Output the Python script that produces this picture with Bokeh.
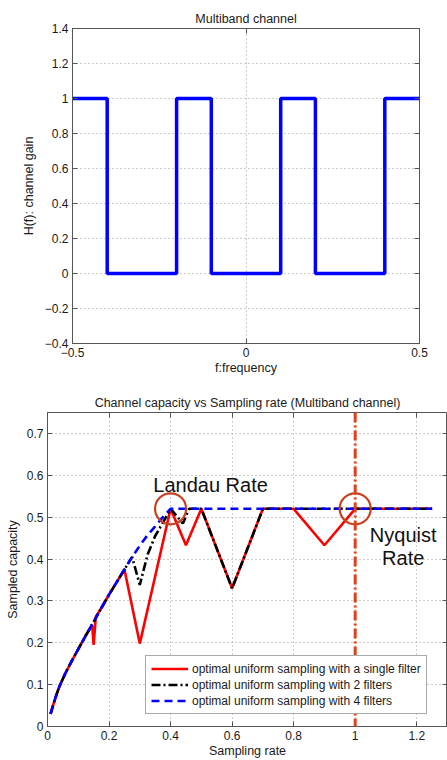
from bokeh.plotting import figure
from bokeh.models import (FixedTicker, CustomJSTickFormatter, LinearAxis, Legend,
                          LegendItem, Range1d, Span)
from bokeh.core.properties import value
from bokeh.embed import file_html
from bokeh.resources import INLINE

FONT = "Liberation Sans"

# ---------------- Top chart data: multiband channel ----------------
band_edges = [-0.5, -0.4, -0.2, -0.1, 0.1, 0.2, 0.4, 0.5]
band_gain = [1, 0, 1, 0, 1, 0, 1, 1]
top_xticks = [-0.5, 0, 0.5]
top_yticks = [-0.4, -0.2, 0, 0.2, 0.4, 0.6, 0.8, 1.0, 1.2, 1.4]

# ---------------- Bottom chart data: capacity vs sampling rate ----------------
rate_single = [0.01, 0.02, 0.03, 0.04, 0.06, 0.08, 0.1, 0.125, 0.145, 0.15, 0.157,
               0.175, 0.2, 0.225, 0.25, 0.3, 0.4, 0.45, 0.5, 0.6, 0.7, 0.8, 0.9,
               1.0, 1.25]
cap_single = [0.030, 0.055, 0.078, 0.098, 0.130, 0.158, 0.185, 0.218, 0.243, 0.195,
              0.262, 0.283, 0.315, 0.345, 0.375, 0.198, 0.520, 0.433, 0.520, 0.330,
              0.520, 0.520, 0.433, 0.520, 0.520]

rate_two = [0.01, 0.02, 0.03, 0.04, 0.06, 0.08, 0.1, 0.125, 0.15, 0.175, 0.2, 0.225,
            0.25, 0.275, 0.3, 0.325, 0.35, 0.375, 0.4, 0.44, 0.46, 0.5, 0.6, 0.7,
            1.25]
cap_two = [0.030, 0.055, 0.078, 0.098, 0.130, 0.158, 0.185, 0.218, 0.250, 0.283,
           0.315, 0.345, 0.375, 0.405, 0.338, 0.410, 0.455, 0.487, 0.520, 0.485,
           0.520, 0.520, 0.330, 0.520, 0.520]

rate_four = [0.01, 0.02, 0.03, 0.04, 0.06, 0.08, 0.1, 0.125, 0.15, 0.175, 0.2, 0.225,
             0.25, 0.275, 0.3, 0.325, 0.35, 0.375, 0.4, 1.25]
cap_four = [0.030, 0.055, 0.078, 0.098, 0.130, 0.158, 0.185, 0.218, 0.250, 0.283,
            0.315, 0.345, 0.375, 0.405, 0.432, 0.457, 0.478, 0.500, 0.520, 0.520]

bot_xticks = [0, 0.2, 0.4, 0.6, 0.8, 1.0, 1.2]
bot_yticks = [0, 0.1, 0.2, 0.3, 0.4, 0.5, 0.6, 0.7]

nyquist_rate = 1.0
marked_rate = [0.4, 1.0]
marked_cap = [0.52, 0.52]

annot_x = [0.53, 1.156, 1.156]
annot_y = [0.576, 0.457, 0.402]
annot_text = ["Landau Rate", "Nyquist", "Rate"]

legend_labels = ["optimal uniform sampling with a single filter",
                 "optimal uniform sampling with 2 filters",
                 "optimal uniform sampling with 4 filters"]

FRAME = "#555555"
TXT = "#1a1a1a"

fmt_code = """
const v = Math.round(tick * 10) / 10;
return String(v).replace('-', '\\u2212');
"""


def style(p, xticks, yticks, xlabel, ylabel, ylabel_standoff):
    p.outline_line_color = FRAME
    p.outline_line_width = 1
    p.title.text_font = FONT
    p.title.text_font_size = "12.5px"
    p.title.text_font_style = "normal"
    p.title.text_color = TXT
    p.title.align = "center"
    p.title.vertical_align = "top"
    p.title.standoff = 2
    for ax in (p.xaxis[0], p.yaxis[0]):
        ax.major_tick_in = 5
        ax.major_tick_out = 0
        ax.minor_tick_line_color = None
        ax.axis_line_color = FRAME
        ax.major_tick_line_color = FRAME
        ax.major_label_text_font = FONT
        ax.major_label_text_font_size = "12px"
        ax.major_label_text_color = TXT
        ax.axis_label_text_font = FONT
        ax.axis_label_text_font_size = "12.5px"
        ax.axis_label_text_font_style = "normal"
        ax.axis_label_text_color = TXT
        ax.major_label_standoff = 4
        ax.formatter = CustomJSTickFormatter(code=fmt_code)
    p.xaxis[0].axis_label_standoff = 1
    p.yaxis[0].axis_label_standoff = ylabel_standoff
    p.xaxis[0].ticker = FixedTicker(ticks=xticks)
    p.yaxis[0].ticker = FixedTicker(ticks=yticks)
    p.xaxis[0].axis_label = xlabel
    p.yaxis[0].axis_label = ylabel
    for g in (p.xgrid[0], p.ygrid[0]):
        g.grid_line_color = "#9a9a9a"
        g.grid_line_dash = "1 3"
        g.grid_line_width = 1
    p.xgrid[0].ticker = FixedTicker(ticks=xticks)
    p.ygrid[0].ticker = FixedTicker(ticks=yticks)
    # box ticks on top and right
    for side, ticks in (("above", xticks), ("right", yticks)):
        ax = LinearAxis(ticker=FixedTicker(ticks=ticks))
        ax.major_tick_in = 5
        ax.major_tick_out = 0
        ax.minor_tick_line_color = None
        ax.axis_line_color = None
        ax.major_tick_line_color = FRAME
        ax.major_label_text_font_size = "0px"
        ax.major_label_text_alpha = 0
        ax.major_label_standoff = 0
        p.add_layout(ax, side)


# ---------------- Top figure ----------------
p1 = figure(width=447, height=385, output_backend="svg", toolbar_location=None,
            x_range=Range1d(-0.5, 0.5), y_range=Range1d(-0.4, 1.4),
            title="Multiband channel", min_border_left=72, min_border_right=28,
            min_border_top=28, min_border_bottom=42)
style(p1, top_xticks, top_yticks, "f:frequency", "H(f): channel gain", 6)
p1.step(x=band_edges, y=band_gain, mode="after", line_color="#0000ff", line_width=3.5)

# ---------------- Bottom figure ----------------
p2 = figure(width=447, height=375, output_backend="svg", toolbar_location=None,
            x_range=Range1d(0, 1.3), y_range=Range1d(0, 0.75),
            title="Channel capacity vs Sampling rate (Multiband channel)",
            min_border_left=47, min_border_right=0, min_border_top=27,
            min_border_bottom=33)
style(p2, bot_xticks, bot_yticks, "Sampling rate", "Sampled capacity", 4)

r_single = p2.line(rate_single, cap_single, line_color="#ff0000", line_width=2.6)
r_two = p2.line(rate_two, cap_two, line_color="#000000", line_width=2.6,
                line_dash="9 3 2 3")
r_four = p2.line(rate_four, cap_four, line_color="#0000ff", line_width=2.6,
                 line_dash="8 5")

p2.add_layout(Span(location=nyquist_rate, dimension="height", line_color="#e0401c",
                   line_width=3, line_dash="10 3 2 3"))

p2.scatter(marked_rate, marked_cap, marker="circle", size=31, fill_color=None,
           line_color="#c8401e", line_width=2.2)

p2.text(x=annot_x[:1], y=annot_y[:1], text=annot_text[:1], text_align="center",
        text_baseline="middle", text_font=value(FONT), text_font_size="20px",
        text_color="#111111")
p2.text(x=annot_x[1:], y=annot_y[1:], text=annot_text[1:], text_align="center",
        text_baseline="middle", text_font=value(FONT), text_font_size="20px",
        text_color="#111111")

legend = Legend(items=[LegendItem(label=legend_labels[0], renderers=[r_single]),
                       LegendItem(label=legend_labels[1], renderers=[r_two]),
                       LegendItem(label=legend_labels[2], renderers=[r_four])],
                location=(98, 12), margin=0, padding=5, spacing=1,
                glyph_width=37, glyph_height=15, label_height=15,
                label_standoff=4, label_text_font=FONT,
                label_text_font_size="12px", label_text_color=TXT,
                border_line_color=FRAME, border_line_width=1,
                background_fill_alpha=1)
p2.add_layout(legend)

open("out.html", "w").write(file_html([p1, p2], INLINE))
